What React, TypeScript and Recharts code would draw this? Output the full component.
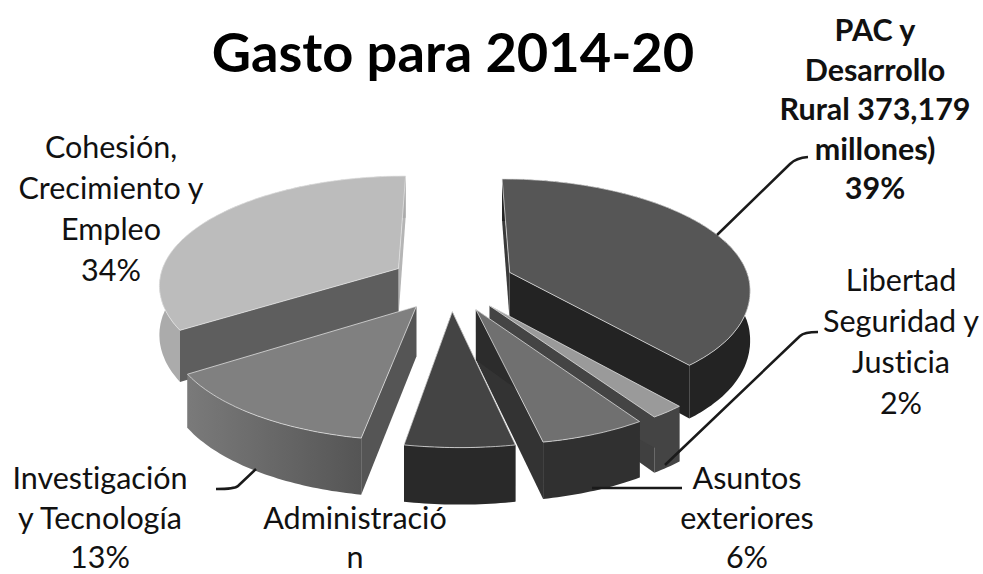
import { PieChart, Pie } from "recharts";

const categories = ["Cohesión", "PAC", "Libertad", "Asuntos", "Administración", "Investigación"];
const values = [34, 39, 2, 6, 6, 13];
const labelLines = [
  ["Cohesión,", "Crecimiento y", "Empleo", "34%"],
  ["PAC y", "Desarrollo", "Rural 373,179", "millones)", "39%"],
  ["Libertad", "Seguridad y", "Justicia", "2%"],
  ["Asuntos", "exteriores", "6%"],
  // the percent of this one falls off the bottom of the picture
  ["Administració", "n"],
  ["Investigación", "y Tecnología", "13%"],
];

const data = categories.map((name, i) => ({ name, value: values[i] }));

const topColors = ["#bcbcbc", "#565656", "#9a9a9a", "#707070", "#444444", "#808080"];
const rimColors = ["#ababab", "#232323", "#444444", "#303030", "#292929", "url(#invRim)"];
const startWallColors = ["#5e5e5e", "#3a3a3a", "#444444", "#2c2c2c", "#333333", "#555555"];
const endWallColors = ["#b5b5b5", "#232323", "#404040", "#333333", "#333333", "#6a6a6a"];

// text placement: centre x, first baseline, line step
const labelPos = [
  { x: 111, y: 158, step: 41 },
  { x: 875, y: 41, step: 39.5 },
  { x: 901, y: 291, step: 41 },
  { x: 747, y: 489, step: 39.5 },
  { x: 355, y: 529, step: 39 },
  { x: 100, y: 489, step: 39.5 },
];
const leaders = [
  null,
  "M717,235 L790,164 Q796,158 808,157",
  "M665,465 L800,336 Q804,332 818,332",
  "M592,488 L682,488",
  null,
  "M256,469 L238,486 Q235,489 216,489",
];

// fake perspective for the tilted, exploded pie
const TILT = 0.46;
const PERSP = 0.13;
const EXPLODE = 62;
const DEPTH = 49;
const RAD = Math.PI / 180;

function project(cx: number, cy: number, R: number, theta: number, r: number, mid: number) {
  const X = r * Math.sin(theta * RAD) + EXPLODE * Math.sin(mid * RAD);
  const Y = -r * Math.cos(theta * RAD) - EXPLODE * Math.cos(mid * RAD);
  const s = 1 + (PERSP * Y) / R;
  // the front of the original pie flares out a little more than plain perspective
  const f = Y > 0 ? (Y / R) * (Y / R) : 0;
  return { x: cx + X * (s + 0.05 * f) + 5 * f, y: cy + TILT * Y * s + 2.5 * f, s };
}

function Slice3D(props: any) {
  const { cx, cy, outerRadius: R, startAngle, endAngle, index } = props;
  const a = 90 - startAngle;
  const b = 90 - endAngle;
  const mid = (a + b) / 2;
  const arc = [];
  const n = Math.max(2, Math.ceil(b - a));
  for (let i = 0; i <= n; i++) arc.push(project(cx, cy, R, a + ((b - a) * i) / n, R, mid));
  const apex = project(cx, cy, R, 0, 0, mid);
  const first = arc[0];
  const last = arc[arc.length - 1];
  const pts = (p: { x: number; y: number }[]) => p.map((q) => `${q.x.toFixed(1)},${q.y.toFixed(1)}`).join(" ");
  const down = (q: { x: number; y: number; s: number }) => ({ x: q.x, y: q.y + DEPTH * q.s, s: q.s });
  return (
    <g>
      <polygon points={pts([apex, last, down(last), down(apex)])} fill={endWallColors[index]} />
      <polygon points={pts([apex, first, down(first), down(apex)])} fill={startWallColors[index]} />
      <polygon points={pts([...arc, ...arc.map(down).reverse()])} fill={rimColors[index]} />
      <polygon
        points={pts([apex, ...arc])}
        fill={topColors[index]}
        stroke="#e4e4e4"
        strokeOpacity={0.75}
        strokeWidth={1}
      />
    </g>
  );
}

function renderLabel(props: any) {
  const i = props.index;
  const pos = labelPos[i];
  const bold = categories[i] === "PAC";
  return (
    <g key={categories[i]}>
      {leaders[i] && <path d={leaders[i] as string} fill="none" stroke="#1a1a1a" strokeWidth={2.5} />}
      {labelLines[i].map((t, k) => (
        <text
          key={k}
          x={pos.x}
          y={pos.y + k * pos.step}
          textAnchor="middle"
          fontFamily="Lato"
          fontSize={30.5}
          fontWeight={bold ? 700 : 400}
          fill="#111"
          style={{ fontVariantLigatures: "none" }}
        >
          {t}
        </text>
      ))}
    </g>
  );
}

const total = values.reduce((s, v) => s + v, 0);
const firstAngle = 90 + (360 * values[0]) / total;

export default function App() {
  return (
    <div style={{ position: "fixed", left: 0, top: 0, width: 983, height: 574, background: "#fff", overflow: "hidden" }}>
      <PieChart width={983} height={574} margin={{ top: 0, right: 0, bottom: 0, left: 0 }}>
        <defs>
          <linearGradient id="invRim" x1="0" y1="0" x2="1" y2="0">
            <stop offset="0%" stopColor="#7a7a7a" />
            <stop offset="100%" stopColor="#555555" />
          </linearGradient>
        </defs>
        <text
          x={453}
          y={72}
          textAnchor="middle"
          fontFamily="Lato"
          fontWeight={700}
          fontSize={54.2}
          fill="#000"
        >
          Gasto para 2014-20
        </text>
        <Pie
          data={data}
          dataKey="value"
          nameKey="name"
          cx={452}
          cy={282}
          outerRadius={240}
          startAngle={firstAngle}
          endAngle={firstAngle - 360}
          paddingAngle={0}
          stroke="none"
          shape={Slice3D}
          label={renderLabel}
          labelLine={false}
          isAnimationActive={false}
        />
      </PieChart>
    </div>
  );
}
